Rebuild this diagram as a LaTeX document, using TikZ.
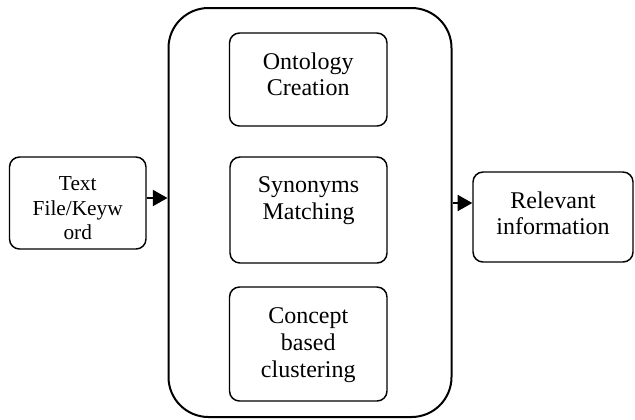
\documentclass[tikz,border=0pt]{standalone}
\usepackage{fontspec}
\setmainfont{Liberation Serif}
\usetikzlibrary{arrows.meta}
\tikzset{
	procbox/.style={draw, line width=1.1pt, rounded corners=7.5pt, inner sep=0pt},
	corebox/.style={draw, line width=1.5pt, rounded corners=30pt, inner sep=0pt},
	boxtext/.style={anchor=north, inner sep=0pt, align=center, font=\fontsize{18}{20}\selectfont},
	flow/.style={line width=1.5pt, -{Triangle[length=11pt,width=12pt]}}
}

\begin{document}
\begin{tikzpicture}[x=0.75pt,y=-0.75pt]
			%%%%% START %%%%%
			\useasboundingbox (0, 0) rectangle (635, 419);
			
			\node[corebox, minimum width=283*0.75pt, minimum height=409*0.75pt] (core) at (310, 212.5) {};
			
			\node[procbox, minimum width=136.5*0.75pt, minimum height=92*0.75pt] (txt) at (77.75, 203) {};
			\node[boxtext, font=\fontsize{16}{18.5}\selectfont] (txtlbl) at ([yshift=-15pt]txt.north) {Text\\File/Keyw\\ord};
			
			\node[procbox, minimum width=157.5*0.75pt, minimum height=93*0.75pt] (onto) at (308.25, 79.5) {};
			\node[boxtext] (ontolbl) at ([yshift=-15pt]onto.north) {Ontology\\Creation};
			
			\node[procbox, minimum width=157*0.75pt, minimum height=106*0.75pt] (syn) at (308.5, 210) {};
			\node[boxtext] (synlbl) at ([yshift=-15pt]syn.north) {Synonyms\\Matching};
			
			\node[procbox, minimum width=157.5*0.75pt, minimum height=114*0.75pt] (clus) at (308.25, 344) {};
			\node[boxtext] (cluslbl) at ([yshift=-16pt]clus.north) {Concept\\based\\clustering};
			
			\node[procbox, minimum width=160*0.75pt, minimum height=90*0.75pt] (info) at (553, 217) {};
			\node[boxtext] (infolbl) at ([yshift=-15pt]info.north) {Relevant\\information};
			
			% arrows in and out of the core
			\coordinate (inpt) at ([yshift=3.75pt]txt.east);
			\draw[flow] (inpt) -- (inpt -| core.west);
			\coordinate (outpt) at ([yshift=10.5pt]info.west);
			\draw[flow] (outpt -| core.east) -- (outpt);
			%%%%% END %%%%%
		\end{tikzpicture}
\end{document}
